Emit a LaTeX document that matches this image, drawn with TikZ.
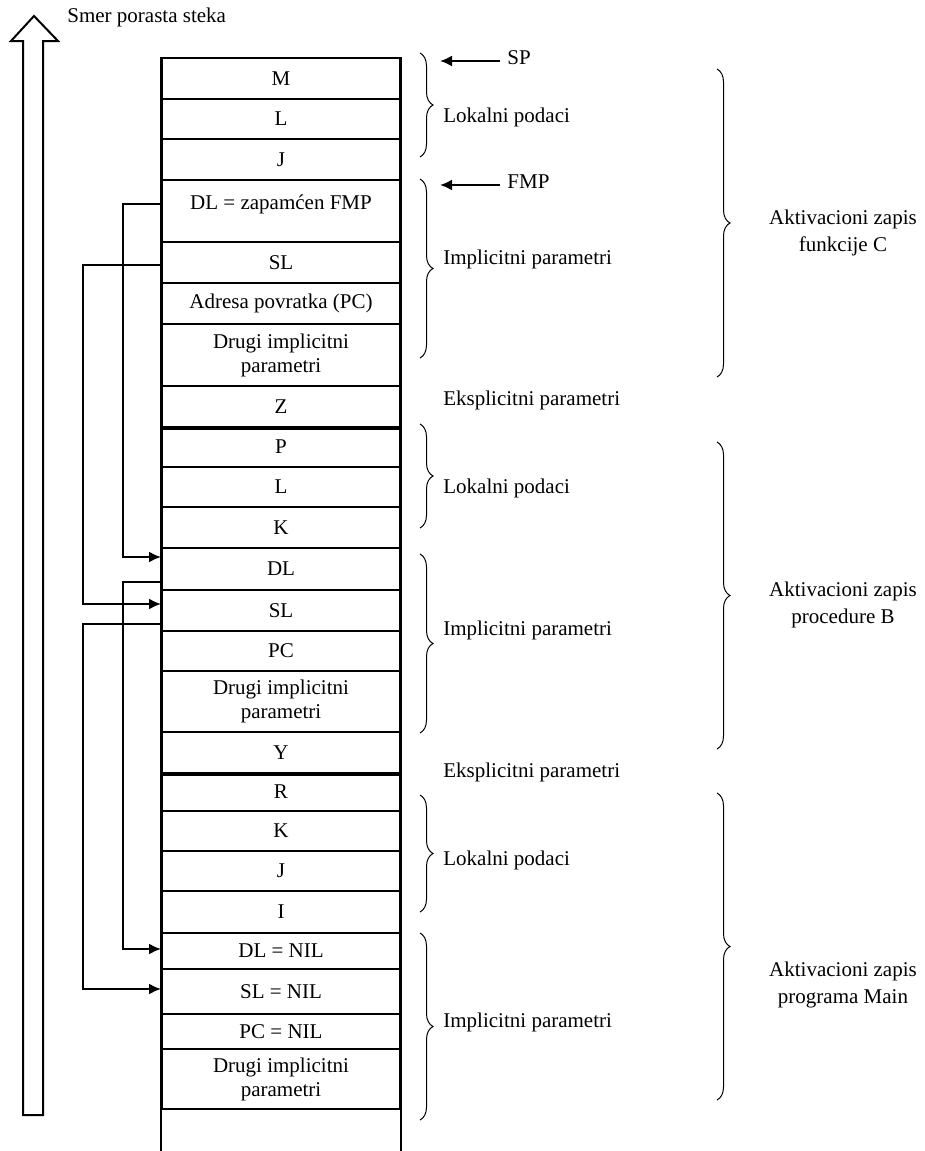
\documentclass[tikz,border=0pt]{standalone}
\usepackage{fontspec}
\setmainfont{Liberation Serif}
\usetikzlibrary{arrows.meta,decorations.pathreplacing}

\begin{document}
\begin{tikzpicture}[x=0.5pt,y=-0.5pt,
    font=\fontsize{10.5}{12}\selectfont,
    cell/.style={draw,line width=1pt,minimum width=119pt,inner sep=0pt,anchor=north,align=center},
    ptr/.style={line width=1pt,-{Latex[length=6pt,width=5.5pt]}},
    brc/.style={decorate,decoration={brace,amplitude=6.5pt},line width=0.5pt},
    lbl/.style={anchor=west,inner sep=0pt},
    zapis/.style={align=center,inner sep=0pt,font=\fontsize{10.5}{13.5}\selectfont}]
  \useasboundingbox (0,0) rectangle (925,1151);
  % smer rasta steka
  \draw[line width=1pt] (23,1115) -- (23,41) -- (11,41) -- (34,16) -- (58,41) -- (43,41) -- (43,1115) -- cycle;
  \node[lbl] (smer) at (67,17) {Smer porasta steka};
  % funkcija C
  \node[cell,minimum height=20.5pt] (cM) at (281,57) {M};
  \node[cell,minimum height=20pt] (cL) at (281,98) {L};
  \node[cell,minimum height=20.5pt] (cJ) at (281,138) {J};
  \node[cell,minimum height=31pt,text depth=9pt] (cDL) at (281,179) {DL = zapamćen FMP};
  \node[cell,minimum height=20.5pt] (cSL) at (281,241) {SL};
  \node[cell,minimum height=20.5pt] (cPC) at (281,282) {Adresa povratka (PC)};
  \node[cell,minimum height=31pt] (cDr) at (281,323) {Drugi implicitni\\parametri};
  \node[cell,minimum height=20.5pt] (cZ) at (281,385) {Z};
  % procedura B
  \node[cell,minimum height=20pt] (bP) at (281,426) {P};
  \node[cell,minimum height=20pt] (bL) at (281,466) {L};
  \node[cell,minimum height=20.5pt] (bK) at (281,506) {K};
  \node[cell,minimum height=21pt] (bDL) at (281,547) {DL};
  \node[cell,minimum height=20.5pt] (bSL) at (281,589) {SL};
  \node[cell,minimum height=20pt] (bPC) at (281,630) {PC};
  \node[cell,minimum height=30.5pt] (bDr) at (281,670) {Drugi implicitni\\parametri};
  \node[cell,minimum height=20.5pt] (bY) at (281,731) {Y};
  % program Main
  \node[cell,minimum height=19pt] (mR) at (281,772) {R};
  \node[cell,minimum height=20pt] (mK) at (281,810) {K};
  \node[cell,minimum height=20pt] (mJ) at (281,850) {J};
  \node[cell,minimum height=21pt] (mI) at (281,890) {I};
  \node[cell,minimum height=18pt] (mDL) at (281,932) {DL = NIL};
  \node[cell,minimum height=22.5pt] (mSL) at (281,968) {SL = NIL};
  \node[cell,minimum height=17.5pt] (mPC) at (281,1013) {PC = NIL};
  \node[cell,minimum height=30pt] (mDr) at (281,1048) {Drugi implicitni\\parametri};
  % ivice steka
  \coordinate (dno) at (281,1151);
  \draw[line width=1.4pt] (cM.north west) -- (cM.north west |- dno);
  \draw[line width=1.4pt] (cM.north east) -- (cM.north east |- dno);
  \draw[line width=2.3pt] (cZ.south west) -- (cZ.south east);
  \draw[line width=2.3pt] (bY.south west) -- (bY.south east);
  % DL i SL pokazivaci
  \coordinate (laneA) at (123,0);
  \coordinate (laneB) at (83,0);
  \coordinate (cDLout) at ([yshift=3.5pt]cDL.west);
  \coordinate (cSLout) at ([yshift=-1.25pt]cSL.west);
  \coordinate (bDLin) at ([yshift=6pt]bDL.west);
  \coordinate (bDLout) at ([yshift=-6.5pt]bDL.west);
  \coordinate (bSLin) at ([yshift=3.25pt]bSL.west);
  \coordinate (bSLout) at ([yshift=-6.75pt]bSL.west);
  \coordinate (mDLin) at ([yshift=1pt]mDL.west);
  \coordinate (mSLin) at ([yshift=1.25pt]mSL.west);
  \draw[ptr] (cDLout) -| (laneA |- bDLin) -- (bDLin);
  \draw[ptr] (cSLout) -| (laneB |- bSLin) -- (bSLin);
  \draw[ptr] (bDLout) -| (laneA |- mDLin) -- (mDLin);
  \draw[ptr] (bSLout) -| (laneB |- mSLin) -- (mSLin);
  % SP i FMP
  \node[lbl] (sp) at (507,58) {SP};
  \coordinate (spTip) at (440,61);
  \draw[ptr] ([xshift=-3.5pt]sp.west |- spTip) -- (spTip);
  \node[lbl] (fmp) at (507,182) {FMP};
  \coordinate (fmpTip) at (440,185);
  \draw[ptr] ([xshift=-3.5pt]fmp.west |- fmpTip) -- (fmpTip);
  % zagrade, prva kolona
  \draw[brc] (420,53) -- (420,157);
  \node[lbl] (lokC) at (443,117) {Lokalni podaci};
  \draw[brc] (420,179) -- (420,358);
  \node[lbl] (impC) at (443,259) {Implicitni parametri};
  \node[lbl] (eksC) at (443,400) {Eksplicitni parametri};
  \draw[brc] (420,424) -- (420,528);
  \node[lbl] (lokB) at (443,488) {Lokalni podaci};
  \draw[brc] (420,554) -- (420,733);
  \node[lbl] (impB) at (443,630) {Implicitni parametri};
  \node[lbl] (eksB) at (443,772) {Eksplicitni parametri};
  \draw[brc] (420,795) -- (420,912);
  \node[lbl] (lokM) at (443,860) {Lokalni podaci};
  \draw[brc] (420,933) -- (420,1120);
  \node[lbl] (impM) at (443,1022) {Implicitni parametri};
  % zagrade, druga kolona
  \draw[brc] (717,69) -- (717,377);
  \node[zapis] (zapC) at (843,233) {Aktivacioni zapis\\funkcije C};
  \draw[brc] (717,442) -- (717,749);
  \node[zapis] (zapB) at (843,605) {Aktivacioni zapis\\procedure B};
  \draw[brc] (717,793) -- (717,1100);
  \node[zapis] (zapM) at (843,985) {Aktivacioni zapis\\programa Main};
\end{tikzpicture}
\end{document}
